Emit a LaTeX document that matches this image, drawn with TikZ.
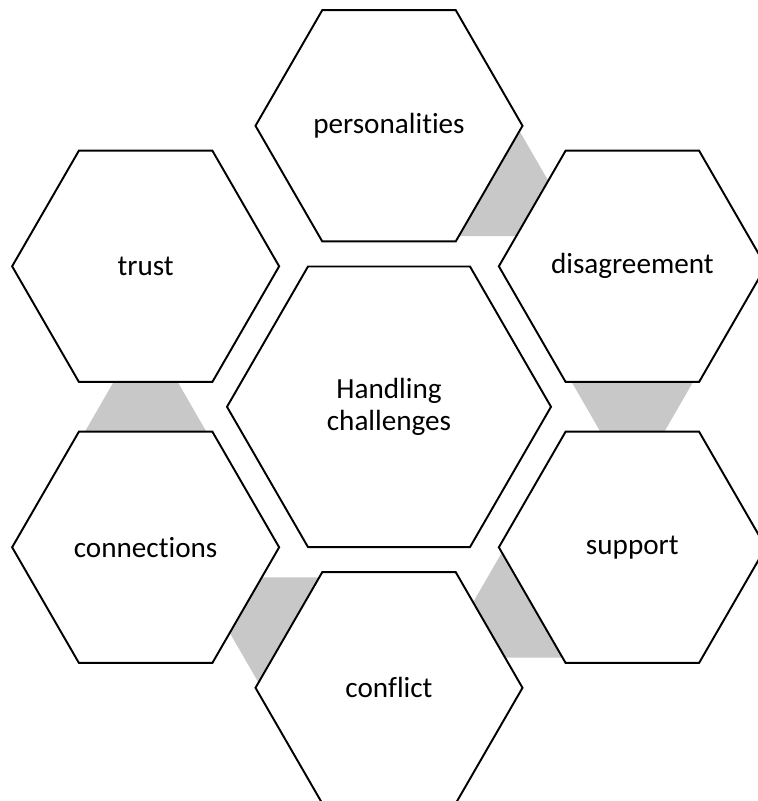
\documentclass[tikz,border=0pt]{standalone}
\usepackage{fontspec}
\setmainfont{Carlito}[RawFeature={-liga;-clig;-calt;-dlig}]
\usetikzlibrary{shapes.geometric,calc,backgrounds}
\definecolor{linkgray}{RGB}{200,200,200}

\begin{document}
\begin{tikzpicture}[hexa/.style={regular polygon, regular polygon sides=6,
                      draw, line width=1.1pt, fill=white,
                      inner sep=0pt, outer sep=0pt, minimum size=5.34cm},
                    link/.style={fill=linkgray}]
\fontsize{16.6}{18}\selectfont
\useasboundingbox (-7.78,-7.884) rectangle (7.36,8.136);
\node [hexa, minimum size=6.48cm, align=center] (hub) at (0,0) {Handling\\challenges};
\node [hexa] (pers)  at (90:5.62)   {personalities};
\node [hexa] (disag) at (30:5.62)   {disagreement};
\node [hexa] (supp)  at (-30:5.62)  {support};
\node [hexa] (confl) at (-90:5.62)  {conflict};
\node [hexa] (conn)  at (-150:5.62) {connections};
\node [hexa] (trust) at (150:5.62)  {trust};
% grey links between neighbours, behind the hexagons
\begin{pgfonlayer}{background}
\foreach \x/\xa/\xb/\y/\ya/\yb in {pers/0/300/disag/120/180,
                                  disag/240/300/supp/120/60,
                                  supp/180/240/confl/60/0,
                                  confl/120/180/conn/0/300,
                                  conn/60/120/trust/300/240}
  \fill [link] ($(\x.\xa)!.045!(\x.\xb)$) -- ($(\x.\xa)!.955!(\x.\xb)$)
               -- ($(\y.\ya)!.74!(\y.\yb)$) -- ($(\y.\ya)!.26!(\y.\yb)$) -- cycle;
\end{pgfonlayer}
\end{tikzpicture}
\end{document}
